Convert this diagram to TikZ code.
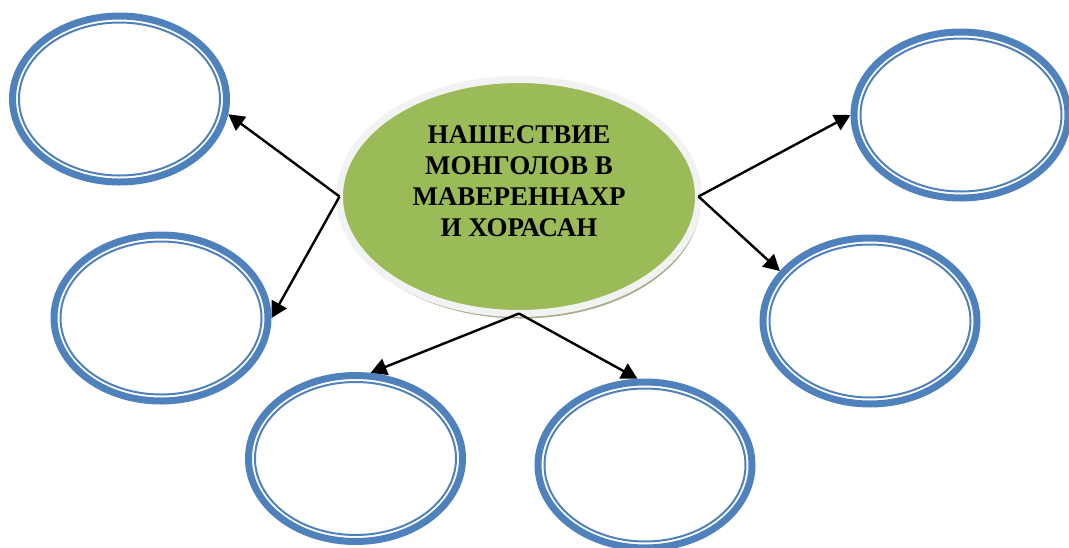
\documentclass[tikz,border=0pt]{standalone}
\usepackage{fontspec}
\setmainfont{Liberation Serif}
\usetikzlibrary{arrows.meta,shapes.geometric,shadows}
\definecolor{bubbleblue}{HTML}{4F81BD}
\definecolor{maingreen}{HTML}{9BBB59}
\definecolor{rimgrey}{HTML}{F2F2F2}
\definecolor{shadowolive}{HTML}{A3AF88}
\begin{document}
\begin{tikzpicture}[x=1pt, y=-1pt,
  bubble/.style={ellipse, draw=bubbleblue, line width=7pt, minimum width=214pt, minimum height=166pt},
  link/.style={-{Triangle[length=16pt, width=17pt]}, line width=2.4pt}]
  \useasboundingbox (0,0) rectangle (1069,547);
  % centre
  \node[ellipse, fill=maingreen, draw=rimgrey, line width=7pt, outer sep=0pt,
        minimum width=359pt, minimum height=234pt, align=center,
        font=\fontsize{27}{31}\selectfont\bfseries,
        drop shadow={shadow xshift=2pt, shadow yshift=-5pt, fill=shadowolive, opacity=1}]
    (main) at (519,196.5) {НАШЕСТВИЕ\\МОНГОЛОВ В\\МАВЕРЕННАХР\\И ХОРАСАН\\~};
  % empty bubbles
  \node[bubble] (tl) at (119.5,99) {};
  \node[bubble] (tr) at (961,115) {};
  \node[bubble] (ml) at (161,318) {};
  \node[bubble] (mr) at (870,321) {};
  \node[bubble] (bl) at (355.5,458.5) {};
  \node[bubble] (br) at (645,465) {};
  \foreach \n in {tl,tr,ml,mr,bl,br}
    \draw[bubbleblue, line width=2pt] (\n.center) ellipse (100.5pt and 76.5pt);
  % arrows
  \draw[link] (main.west) -- (tl.-8);
  \draw[link] (main.west) -- (ml.east);
  \draw[link] (main.east) -- (tr.west);
  \draw[link] (main.east) -- (mr.151);
  \draw[link] (main.south) -- (bl.80);
  \draw[link] (main.south) -- (br.95);
\end{tikzpicture}
\end{document}
